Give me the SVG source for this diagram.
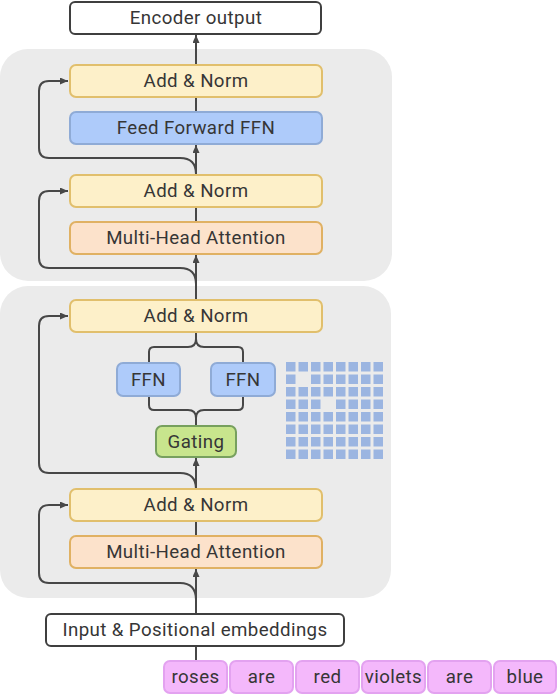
<svg xmlns="http://www.w3.org/2000/svg" width="558" height="694" viewBox="0 0 558 694">
<defs>
<marker id="arr" markerWidth="9" markerHeight="8" refX="8" refY="3.5" orient="auto" markerUnits="userSpaceOnUse">
<path d="M0,0 L8,3.5 L0,7 z" fill="#474747"/>
</marker>
<style>
text{font-family:Roboto,"Liberation Sans",sans-serif;font-size:18.7px;fill:#363636;text-anchor:middle;dominant-baseline:central;letter-spacing:0.4px}
.panel{fill:#ebebeb}
.white{fill:#fff;stroke:#3f3f3f;stroke-width:2}
.an{fill:#fdf0c9;stroke:#e1bf6c;stroke-width:2}
.ffn{fill:#aecbfa;stroke:#8fabd6;stroke-width:2}
.mha{fill:#fce2cb;stroke:#e0b163;stroke-width:2}
.gate{fill:#c8e58d;stroke:#77a05e;stroke-width:2}
.word{fill:#f4b8fb;stroke:#e3a2f0;stroke-width:2}
.cell{fill:#9bb5e1}
.ln{fill:none;stroke:#474747;stroke-width:2}
</style>
</defs>
<rect class="panel" x="0" y="49" width="392" height="232" rx="28"/>
<rect class="panel" x="0" y="286" width="391" height="312" rx="28"/>
<g id="grid">
<rect class="cell" x="286" y="362" width="9.5" height="9.5"/><rect class="cell" x="298.5" y="362" width="9.5" height="9.5"/><rect class="cell" x="311" y="362" width="9.5" height="9.5"/><rect class="cell" x="323.5" y="362" width="9.5" height="9.5"/><rect class="cell" x="336" y="362" width="9.5" height="9.5"/><rect class="cell" x="348.5" y="362" width="9.5" height="9.5"/><rect class="cell" x="361" y="362" width="9.5" height="9.5"/><rect class="cell" x="373.5" y="362" width="9.5" height="9.5"/>
<rect class="cell" x="286" y="374.5" width="9.5" height="9.5"/><rect class="cell" x="311" y="374.5" width="9.5" height="9.5"/><rect class="cell" x="323.5" y="374.5" width="9.5" height="9.5"/><rect class="cell" x="336" y="374.5" width="9.5" height="9.5"/><rect class="cell" x="348.5" y="374.5" width="9.5" height="9.5"/><rect class="cell" x="361" y="374.5" width="9.5" height="9.5"/><rect class="cell" x="373.5" y="374.5" width="9.5" height="9.5"/>
<rect class="cell" x="286" y="387" width="9.5" height="9.5"/><rect class="cell" x="298.5" y="387" width="9.5" height="9.5"/><rect class="cell" x="311" y="387" width="9.5" height="9.5"/><rect class="cell" x="323.5" y="387" width="9.5" height="9.5"/><rect class="cell" x="336" y="387" width="9.5" height="9.5"/><rect class="cell" x="348.5" y="387" width="9.5" height="9.5"/><rect class="cell" x="361" y="387" width="9.5" height="9.5"/><rect class="cell" x="373.5" y="387" width="9.5" height="9.5"/>
<rect class="cell" x="286" y="399.5" width="9.5" height="9.5"/><rect class="cell" x="298.5" y="399.5" width="9.5" height="9.5"/><rect class="cell" x="311" y="399.5" width="9.5" height="9.5"/><rect class="cell" x="336" y="399.5" width="9.5" height="9.5"/><rect class="cell" x="348.5" y="399.5" width="9.5" height="9.5"/><rect class="cell" x="361" y="399.5" width="9.5" height="9.5"/><rect class="cell" x="373.5" y="399.5" width="9.5" height="9.5"/>
<rect class="cell" x="286" y="412" width="9.5" height="9.5"/><rect class="cell" x="298.5" y="412" width="9.5" height="9.5"/><rect class="cell" x="311" y="412" width="9.5" height="9.5"/><rect class="cell" x="323.5" y="412" width="9.5" height="9.5"/><rect class="cell" x="336" y="412" width="9.5" height="9.5"/><rect class="cell" x="348.5" y="412" width="9.5" height="9.5"/><rect class="cell" x="361" y="412" width="9.5" height="9.5"/><rect class="cell" x="373.5" y="412" width="9.5" height="9.5"/>
<rect class="cell" x="286" y="424.5" width="9.5" height="9.5"/><rect class="cell" x="298.5" y="424.5" width="9.5" height="9.5"/><rect class="cell" x="311" y="424.5" width="9.5" height="9.5"/><rect class="cell" x="323.5" y="424.5" width="9.5" height="9.5"/><rect class="cell" x="336" y="424.5" width="9.5" height="9.5"/><rect class="cell" x="348.5" y="424.5" width="9.5" height="9.5"/><rect class="cell" x="361" y="424.5" width="9.5" height="9.5"/><rect class="cell" x="373.5" y="424.5" width="9.5" height="9.5"/>
<rect class="cell" x="286" y="437" width="9.5" height="9.5"/><rect class="cell" x="298.5" y="437" width="9.5" height="9.5"/><rect class="cell" x="311" y="437" width="9.5" height="9.5"/><rect class="cell" x="323.5" y="437" width="9.5" height="9.5"/><rect class="cell" x="336" y="437" width="9.5" height="9.5"/><rect class="cell" x="348.5" y="437" width="9.5" height="9.5"/><rect class="cell" x="361" y="437" width="9.5" height="9.5"/><rect class="cell" x="373.5" y="437" width="9.5" height="9.5"/>
<rect class="cell" x="286" y="449.5" width="9.5" height="9.5"/><rect class="cell" x="298.5" y="449.5" width="9.5" height="9.5"/><rect class="cell" x="311" y="449.5" width="9.5" height="9.5"/><rect class="cell" x="323.5" y="449.5" width="9.5" height="9.5"/><rect class="cell" x="336" y="449.5" width="9.5" height="9.5"/><rect class="cell" x="348.5" y="449.5" width="9.5" height="9.5"/><rect class="cell" x="361" y="449.5" width="9.5" height="9.5"/><rect class="cell" x="373.5" y="449.5" width="9.5" height="9.5"/>
</g>
<g id="connectors">
<line class="ln" x1="196" y1="661" x2="196" y2="646"/>
<line class="ln" x1="196" y1="614" x2="196" y2="569" marker-end="url(#arr)"/>
<line class="ln" x1="196" y1="536" x2="196" y2="521"/>
<line class="ln" x1="196" y1="489" x2="196" y2="458" marker-end="url(#arr)"/>
<line class="ln" x1="196" y1="300" x2="196" y2="255" marker-end="url(#arr)"/>
<line class="ln" x1="196" y1="222" x2="196" y2="207"/>
<line class="ln" x1="196" y1="175" x2="196" y2="145" marker-end="url(#arr)"/>
<line class="ln" x1="196" y1="112" x2="196" y2="97"/>
<line class="ln" x1="196" y1="65" x2="196" y2="35" marker-end="url(#arr)"/>
<path class="ln" d="M196,600 Q196,583 180,583 H49 Q39,583 39,573 V515 Q39,505 49,505 H68" marker-end="url(#arr)"/>
<path class="ln" d="M196,489 Q196,473 180,473 H49 Q39,473 39,463 V326 Q39,316 49,316 H68" marker-end="url(#arr)"/>
<path class="ln" d="M196,284 Q196,268 180,268 H49 Q39,268 39,258 V201 Q39,191 49,191 H68" marker-end="url(#arr)"/>
<path class="ln" d="M196,174 Q196,158 180,158 H49 Q39,158 39,148 V91 Q39,81 49,81 H68" marker-end="url(#arr)"/>
<path class="ln" d="M149,363 V352 Q149,347 154,347 H188 Q196,347 196,339 V332 M243,363 V352 Q243,347 238,347 H204 Q196,347 196,339"/>
<path class="ln" d="M149,396 V405 Q149,410 154,410 H188 Q196,410 196,418 V426 M243,396 V405 Q243,410 238,410 H204 Q196,410 196,418"/>
</g>
<g id="encoder-output"><rect class="white" x="70" y="2" width="251" height="32" rx="5"/><text x="196" y="18">Encoder output</text></g>
<g id="add-norm-4"><rect class="an" x="70" y="65" width="252" height="32" rx="6"/><text x="196" y="81">Add &amp; Norm</text></g>
<g id="ffn-main"><rect class="ffn" x="70" y="112" width="252" height="32" rx="6"/><text x="196" y="128">Feed Forward FFN</text></g>
<g id="add-norm-3"><rect class="an" x="70" y="175" width="252" height="32" rx="6"/><text x="196" y="191">Add &amp; Norm</text></g>
<g id="mha-2"><rect class="mha" x="70" y="222" width="252" height="32" rx="6"/><text x="196" y="238">Multi-Head Attention</text></g>
<g id="add-norm-2"><rect class="an" x="70" y="300" width="252" height="32" rx="6"/><text x="196" y="316">Add &amp; Norm</text></g>
<g id="ffn-left"><rect class="ffn" x="117" y="363" width="63" height="33" rx="6"/><text x="148.5" y="379.5">FFN</text></g>
<g id="ffn-right"><rect class="ffn" x="211" y="363" width="64" height="33" rx="6"/><text x="243" y="379.5">FFN</text></g>
<g id="gating"><rect class="gate" x="156" y="426" width="80" height="31" rx="6"/><text x="196" y="441.5">Gating</text></g>
<g id="add-norm-1"><rect class="an" x="70" y="489" width="252" height="32" rx="6"/><text x="196" y="505">Add &amp; Norm</text></g>
<g id="mha-1"><rect class="mha" x="70" y="536" width="252" height="32" rx="6"/><text x="196" y="552">Multi-Head Attention</text></g>
<g id="input-embeddings"><rect class="white" x="46" y="614" width="298" height="32" rx="5"/><text x="195" y="630">Input &amp; Positional embeddings</text></g>
<g id="words">
<g id="w-roses"><rect class="word" x="164" y="661" width="63" height="32" rx="6"/><text x="195.5" y="677">roses</text></g>
<g id="w-are1"><rect class="word" x="230" y="661" width="63" height="32" rx="6"/><text x="261.5" y="677">are</text></g>
<g id="w-red"><rect class="word" x="296" y="661" width="63" height="32" rx="6"/><text x="327.5" y="677">red</text></g>
<g id="w-violets"><rect class="word" x="362" y="661" width="63" height="32" rx="6"/><text x="393.5" y="677">violets</text></g>
<g id="w-are2"><rect class="word" x="428" y="661" width="63" height="32" rx="6"/><text x="459.5" y="677">are</text></g>
<g id="w-blue"><rect class="word" x="494" y="661" width="62" height="32" rx="6"/><text x="525" y="677">blue</text></g>
</g>
</svg>
